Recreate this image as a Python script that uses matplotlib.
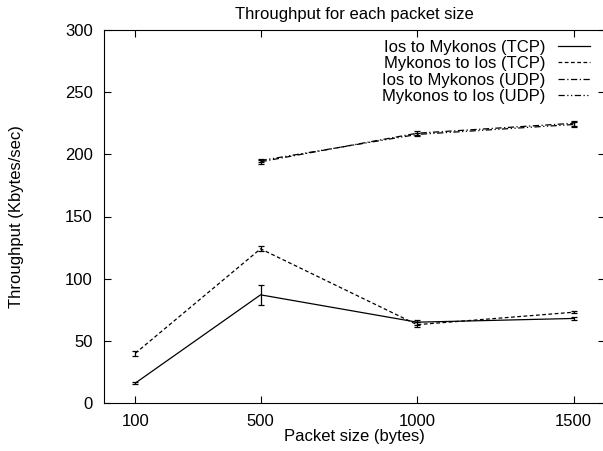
import numpy as np
import matplotlib.pyplot as plt

plt.rcParams['font.family'] = ['Liberation Sans', 'DejaVu Sans']

packet_tcp = [100, 500, 1000, 1500]
packet_udp = [500, 1000, 1500]

tcp_ios_myk = [16, 87, 65, 68]
tcp_ios_myk_err = [1, 8, 2, 1]
tcp_myk_ios = [40, 124, 63, 73]
tcp_myk_ios_err = [2, 2, 2, 1]
udp_ios_myk = [194, 217, 225]
udp_ios_myk_err = [1.5, 1.5, 2]
udp_myk_ios = [195, 216, 224]
udp_myk_ios_err = [1.5, 1.5, 2]

fig = plt.figure(figsize=(6.03, 4.51), dpi=100)
ax = fig.add_axes([104/603, 48/451, 501/603, 373/451])

kw = dict(color='black', lw=0.9, capsize=2.2, elinewidth=0.9, capthick=0.9)
ax.errorbar(packet_tcp, tcp_ios_myk, yerr=tcp_ios_myk_err, ls='-', marker='o',
            ms=3.5, mfc='none', label='Ios to Mykonos (TCP)', **kw)
ax.errorbar(packet_tcp, tcp_myk_ios, yerr=tcp_myk_ios_err, ls=(0, (3, 2)), marker='+',
            ms=6, label='Mykonos to Ios (TCP)', **kw)
ax.errorbar(packet_udp, udp_ios_myk, yerr=udp_ios_myk_err, ls=(0, (5, 2, 1, 2)), marker='s',
            ms=3.5, mfc='none', label='Ios to Mykonos (UDP)', **kw)
ax.errorbar(packet_udp, udp_myk_ios, yerr=udp_myk_ios_err, ls=(0, (5, 2, 1, 2, 1, 2)), marker='x',
            ms=4, label='Mykonos to Ios (UDP)', **kw)

ax.set_xlim(0, 1600)
ax.set_ylim(0, 300)
ax.set_xticks([100, 500, 1000, 1500])
ax.set_yticks(range(0, 301, 50))
ax.tick_params(direction='in', top=True, right=True, labelsize=12, length=5, width=0.8, pad=8)
ax.set_title('Throughput for each packet size', fontsize=12, pad=8)
ax.set_xlabel('Packet size (bytes)', fontsize=12, labelpad=0)
ax.set_ylabel('Throughput (Kbytes/sec)', fontsize=12)
ax.yaxis.set_label_coords(-0.16, 0.5)

handles, labels = ax.get_legend_handles_labels()
handles = [h[0] for h in handles]
for h in handles:
    h.set_marker('')
leg = ax.legend(handles, labels, loc='upper right', frameon=False, markerfirst=False,
                fontsize=12, handlelength=1.9, labelspacing=0.08, handletextpad=0.8,
                borderpad=0, borderaxespad=0,
                bbox_to_anchor=(590/603, (451-40)/451), bbox_transform=fig.transFigure)
for t in leg.get_texts():
    t.set_ha('right')
leg._legend_box.align = 'right'

fig.savefig('out.png', dpi=100)
